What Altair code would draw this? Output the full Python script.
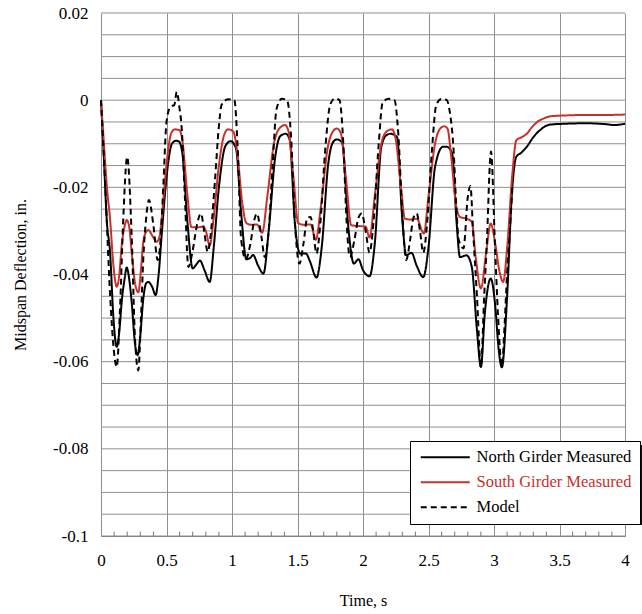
import altair as alt
import pandas as pd

# ---------------- data ----------------
north_t = [0.0, 0.02, 0.045, 0.069, 0.095, 0.12, 0.14, 0.158, 0.18, 0.196, 0.215, 0.234, 0.26, 0.28, 0.30, 0.323, 0.345, 0.361, 0.39, 0.417, 0.44, 0.463, 0.49, 0.514, 0.535, 0.552, 0.575, 0.595, 0.62, 0.66, 0.70, 0.73, 0.755, 0.79, 0.83, 0.86, 0.90, 0.95, 0.99, 1.03, 1.07, 1.11, 1.14, 1.16, 1.20, 1.24, 1.28, 1.33, 1.37, 1.41, 1.44, 1.48, 1.52, 1.565, 1.595, 1.645, 1.685, 1.735, 1.77, 1.80, 1.84, 1.89, 1.93, 1.965, 2.0, 2.05, 2.09, 2.14, 2.18, 2.21, 2.26, 2.30, 2.33, 2.37, 2.41, 2.46, 2.50, 2.55, 2.61, 2.64, 2.68, 2.715, 2.74, 2.79, 2.83, 2.87, 2.90, 2.93, 2.975, 3.01, 3.035, 3.06, 3.10, 3.135, 3.17, 3.21, 3.25, 3.30, 3.35, 3.43, 3.55, 3.7, 3.85, 3.92, 4.0]
north_v = [0.0, -0.012, -0.028, -0.0348, -0.050, -0.0566, -0.053, -0.0463, -0.041, -0.0384, -0.041, -0.0463, -0.056, -0.0585, -0.054, -0.0455, -0.042, -0.0417, -0.0428, -0.0447, -0.040, -0.031, -0.021, -0.0141, -0.0105, -0.0096, -0.0093, -0.0095, -0.012, -0.028, -0.0386, -0.0376, -0.0368, -0.039, -0.0417, -0.034, -0.020, -0.0105, -0.0094, -0.011, -0.026, -0.0365, -0.0362, -0.0355, -0.038, -0.0398, -0.030, -0.013, -0.0082, -0.0077, -0.009, -0.0282, -0.0352, -0.0352, -0.037, -0.0407, -0.0337, -0.0145, -0.0097, -0.009, -0.0097, -0.0298, -0.0375, -0.0365, -0.039, -0.0404, -0.0329, -0.0107, -0.008, -0.0077, -0.0085, -0.0275, -0.0356, -0.035, -0.038, -0.0406, -0.0337, -0.0153, -0.0107, -0.0107, -0.0122, -0.0283, -0.036, -0.0356, -0.0382, -0.0528, -0.0612, -0.0489, -0.0409, -0.0474, -0.057, -0.0613, -0.0451, -0.0222, -0.013, -0.012, -0.0107, -0.0085, -0.0069, -0.0056, -0.0054, -0.0053, -0.0055, -0.0057, -0.0054]

south_t = [0.0, 0.02, 0.045, 0.069, 0.095, 0.12, 0.14, 0.158, 0.18, 0.196, 0.215, 0.234, 0.26, 0.285, 0.305, 0.323, 0.345, 0.361, 0.39, 0.425, 0.445, 0.463, 0.49, 0.514, 0.537, 0.565, 0.60, 0.62, 0.66, 0.69, 0.74, 0.78, 0.80, 0.83, 0.86, 0.90, 0.94, 0.97, 1.01, 1.04, 1.08, 1.11, 1.15, 1.19, 1.23, 1.27, 1.32, 1.37, 1.405, 1.43, 1.47, 1.505, 1.55, 1.60, 1.64, 1.68, 1.73, 1.77, 1.80, 1.83, 1.87, 1.91, 1.98, 2.02, 2.05, 2.09, 2.14, 2.18, 2.22, 2.25, 2.29, 2.32, 2.37, 2.41, 2.465, 2.50, 2.55, 2.59, 2.62, 2.645, 2.67, 2.71, 2.74, 2.79, 2.83, 2.86, 2.90, 2.94, 2.975, 3.01, 3.04, 3.07, 3.10, 3.14, 3.17, 3.21, 3.25, 3.29, 3.33, 3.38, 3.43, 3.55, 3.7, 3.85, 4.0]
south_v = [0.0, -0.009, -0.020, -0.0272, -0.038, -0.0428, -0.040, -0.0333, -0.029, -0.0275, -0.029, -0.0348, -0.042, -0.0441, -0.039, -0.0325, -0.0302, -0.0298, -0.031, -0.0325, -0.0315, -0.0272, -0.018, -0.0111, -0.0075, -0.0067, -0.0069, -0.009, -0.022, -0.0291, -0.0292, -0.029, -0.030, -0.0333, -0.027, -0.015, -0.008, -0.0067, -0.0072, -0.012, -0.024, -0.0282, -0.0286, -0.0285, -0.0304, -0.022, -0.010, -0.0062, -0.0057, -0.007, -0.018, -0.0282, -0.0286, -0.0285, -0.032, -0.024, -0.011, -0.0072, -0.0065, -0.0075, -0.018, -0.0287, -0.0289, -0.029, -0.0315, -0.022, -0.010, -0.0072, -0.0067, -0.009, -0.020, -0.0272, -0.0274, -0.0272, -0.0306, -0.022, -0.010, -0.0065, -0.006, -0.0065, -0.012, -0.024, -0.0268, -0.0272, -0.0279, -0.036, -0.0432, -0.035, -0.0283, -0.033, -0.039, -0.0417, -0.034, -0.017, -0.0092, -0.0085, -0.0077, -0.0062, -0.005, -0.0042, -0.0037, -0.0035, -0.0034, -0.0034, -0.0033]

model_t = [0.0, 0.03, 0.07, 0.10, 0.12, 0.145, 0.17, 0.20, 0.234, 0.26, 0.285, 0.305, 0.323, 0.345, 0.366, 0.40, 0.433, 0.455, 0.476, 0.50, 0.53, 0.56, 0.578, 0.60, 0.615, 0.64, 0.667, 0.70, 0.73, 0.763, 0.79, 0.814, 0.84, 0.87, 0.90, 0.92, 0.97, 1.018, 1.043, 1.07, 1.105, 1.14, 1.17, 1.19, 1.225, 1.25, 1.28, 1.31, 1.34, 1.38, 1.42, 1.45, 1.48, 1.515, 1.545, 1.575, 1.60, 1.62, 1.645, 1.675, 1.71, 1.75, 1.785, 1.82, 1.85, 1.875, 1.90, 1.935, 1.965, 1.99, 2.02, 2.05, 2.08, 2.12, 2.15, 2.195, 2.24, 2.27, 2.30, 2.33, 2.36, 2.385, 2.41, 2.435, 2.46, 2.49, 2.525, 2.56, 2.60, 2.64, 2.664, 2.69, 2.715, 2.73, 2.767, 2.80, 2.82, 2.84, 2.87, 2.90, 2.925, 2.944, 2.977, 3.008, 3.03, 3.06, 3.08, 3.10, 3.12, 3.14]
model_v = [0.0, -0.018, -0.045, -0.058, -0.0612, -0.048, -0.0272, -0.013, -0.031, -0.055, -0.062, -0.050, -0.0363, -0.027, -0.0229, -0.0287, -0.0367, -0.032, -0.0195, -0.005, -0.0015, -0.0011, 0.0019, -0.002, -0.006, -0.022, -0.0383, -0.0345, -0.029, -0.026, -0.0306, -0.0348, -0.030, -0.0184, -0.006, -0.0011, 0.0002, 0.0, -0.0107, -0.032, -0.0365, -0.033, -0.0275, -0.026, -0.0314, -0.036, -0.030, -0.015, -0.002, 0.0003, 0.0, -0.008, -0.028, -0.0375, -0.033, -0.027, -0.0268, -0.030, -0.0352, -0.028, -0.012, -0.001, 0.0004, 0.0, -0.010, -0.028, -0.036, -0.032, -0.027, -0.026, -0.030, -0.035, -0.028, -0.010, -0.0005, 0.0003, 0.0, -0.008, -0.026, -0.0367, -0.032, -0.027, -0.026, -0.030, -0.035, -0.028, -0.012, -0.001, 0.0003, 0.0, -0.003, -0.0107, -0.026, -0.032, -0.034, -0.0222, -0.0197, -0.0298, -0.045, -0.0612, -0.045, -0.0337, -0.0118, -0.0337, -0.049, -0.061, -0.052, -0.0397, -0.0306, -0.020]

series_names = ["North Girder Measured", "South Girder Measured", "Model"]
series_colors = ["#000000", "#c8302c", "#000000"]
series_dashes = [[1, 0], [1, 0], [6, 4]]

x_major = [0, 0.5, 1, 1.5, 2, 2.5, 3, 3.5, 4]
x_minor = [0.1, 0.2, 0.3, 0.4, 0.6, 0.7, 0.8, 0.9, 1.1, 1.2, 1.3, 1.4, 1.6, 1.7, 1.8, 1.9,
           2.1, 2.2, 2.3, 2.4, 2.6, 2.7, 2.8, 2.9, 3.1, 3.2, 3.3, 3.4, 3.6, 3.7, 3.8, 3.9]
y_labels = [0.02, 0.0, -0.02, -0.04, -0.06, -0.08, -0.1]
y_grid = [0.02, 0.015, 0.01, 0.005, 0.0, -0.005, -0.01, -0.015, -0.02, -0.025, -0.03, -0.035,
          -0.04, -0.045, -0.05, -0.055, -0.06, -0.065, -0.07, -0.075, -0.08, -0.085, -0.09, -0.095, -0.1]

# ---------------- tables ----------------
rows = []
for name, ts, vs in [(series_names[0], north_t, north_v),
                     (series_names[1], south_t, south_v),
                     (series_names[2], model_t, model_v)]:
    for i, (t, v) in enumerate(zip(ts, vs)):
        rows.append({"series": name, "t": t, "v": v, "order": i})
lines_df = pd.DataFrame(rows)
minor_df = pd.DataFrame({"t": x_minor, "y0": [-0.1] * len(x_minor), "y1": [-0.099] * len(x_minor)})
hgrid_df = pd.DataFrame({"v": y_grid})

FONT = "Liberation Serif, Times New Roman, serif"
GRID = "#8f8f8f"

x_scale = alt.Scale(domain=[0, 4], nice=False, zero=False)
y_scale = alt.Scale(domain=[-0.1, 0.02], nice=False, zero=False)

y_axis = alt.Axis(values=y_labels, grid=False, tickSize=0, domain=False,
                  labelFont=FONT, labelFontSize=17, labelPadding=13, labelColor="black",
                  labelFlush=False, labelExpr="toString(datum.value)",
                  title="Midspan Deflection, in.", titleFont=FONT, titleFontSize=16,
                  titleFontWeight="normal", titleColor="black", titlePadding=24)
x_axis = alt.Axis(values=x_major, grid=True, gridColor=GRID, tickSize=0, domain=True,
                  domainColor="#777777",
                  labelFont=FONT, labelFontSize=17, labelPadding=16, labelColor="black",
                  labelFlush=False, labelExpr="toString(datum.value)",
                  title="Time, s", titleFont=FONT, titleFontSize=16, titleFontWeight="normal",
                  titleColor="black", titlePadding=24)

legend = alt.Legend(
    title=None, orient="none", legendX=309, legendY=428,
    fillColor="white", strokeColor="black", padding=8,
    labelFont=FONT, labelFontSize=16.5, labelOffset=23,
    labelExpr="datum.label + '\u00a0\u00a0\u00a0\u00a0\u00a0\u00a0\u00a0\u00a0'",
    symbolType="M-4.9,0H4.9", symbolSize=100, symbolStrokeWidth=2, symbolOffset=19,
    rowPadding=8,
    labelColor={"expr": "datum.value == 'South Girder Measured' ? '#c8302c' : 'black'"},
)

hgrid = alt.Chart(hgrid_df).mark_rule(color=GRID, strokeWidth=1).encode(
    y=alt.Y("v:Q", scale=y_scale, axis=y_axis),
)

minor = alt.Chart(minor_df).mark_rule(color="#777777", strokeWidth=1).encode(
    x=alt.X("t:Q", scale=x_scale, axis=x_axis),
    y=alt.Y("y0:Q", scale=y_scale, axis=y_axis),
    y2="y1:Q",
)

# legend drop shadow (decoration behind the legend box, offset down-right)
shadow = alt.Chart(pd.DataFrame({"k": [0]})).mark_rect(color="#111111").encode(
    x=alt.value(312), x2=alt.value(620), y=alt.value(432), y2=alt.value(512),
)

lines = alt.Chart(lines_df).mark_line(interpolate="monotone", strokeWidth=2).encode(
    x=alt.X("t:Q", scale=x_scale, axis=x_axis),
    y=alt.Y("v:Q", scale=y_scale, axis=y_axis),
    color=alt.Color("series:N", scale=alt.Scale(domain=series_names, range=series_colors), legend=legend),
    strokeDash=alt.StrokeDash("series:N", scale=alt.Scale(domain=series_names, range=series_dashes), legend=legend),
    order="order:Q",
)

chart = alt.layer(hgrid, minor, lines, shadow).properties(
    width=524, height=523,
    autosize=alt.AutoSizeParams(type="none"),
    padding={"left": 101, "top": 13, "right": 17, "bottom": 78},
    background="white",
).configure_view(stroke=None)

chart.save("out.html", embed_options={"renderer": "svg", "actions": False})
